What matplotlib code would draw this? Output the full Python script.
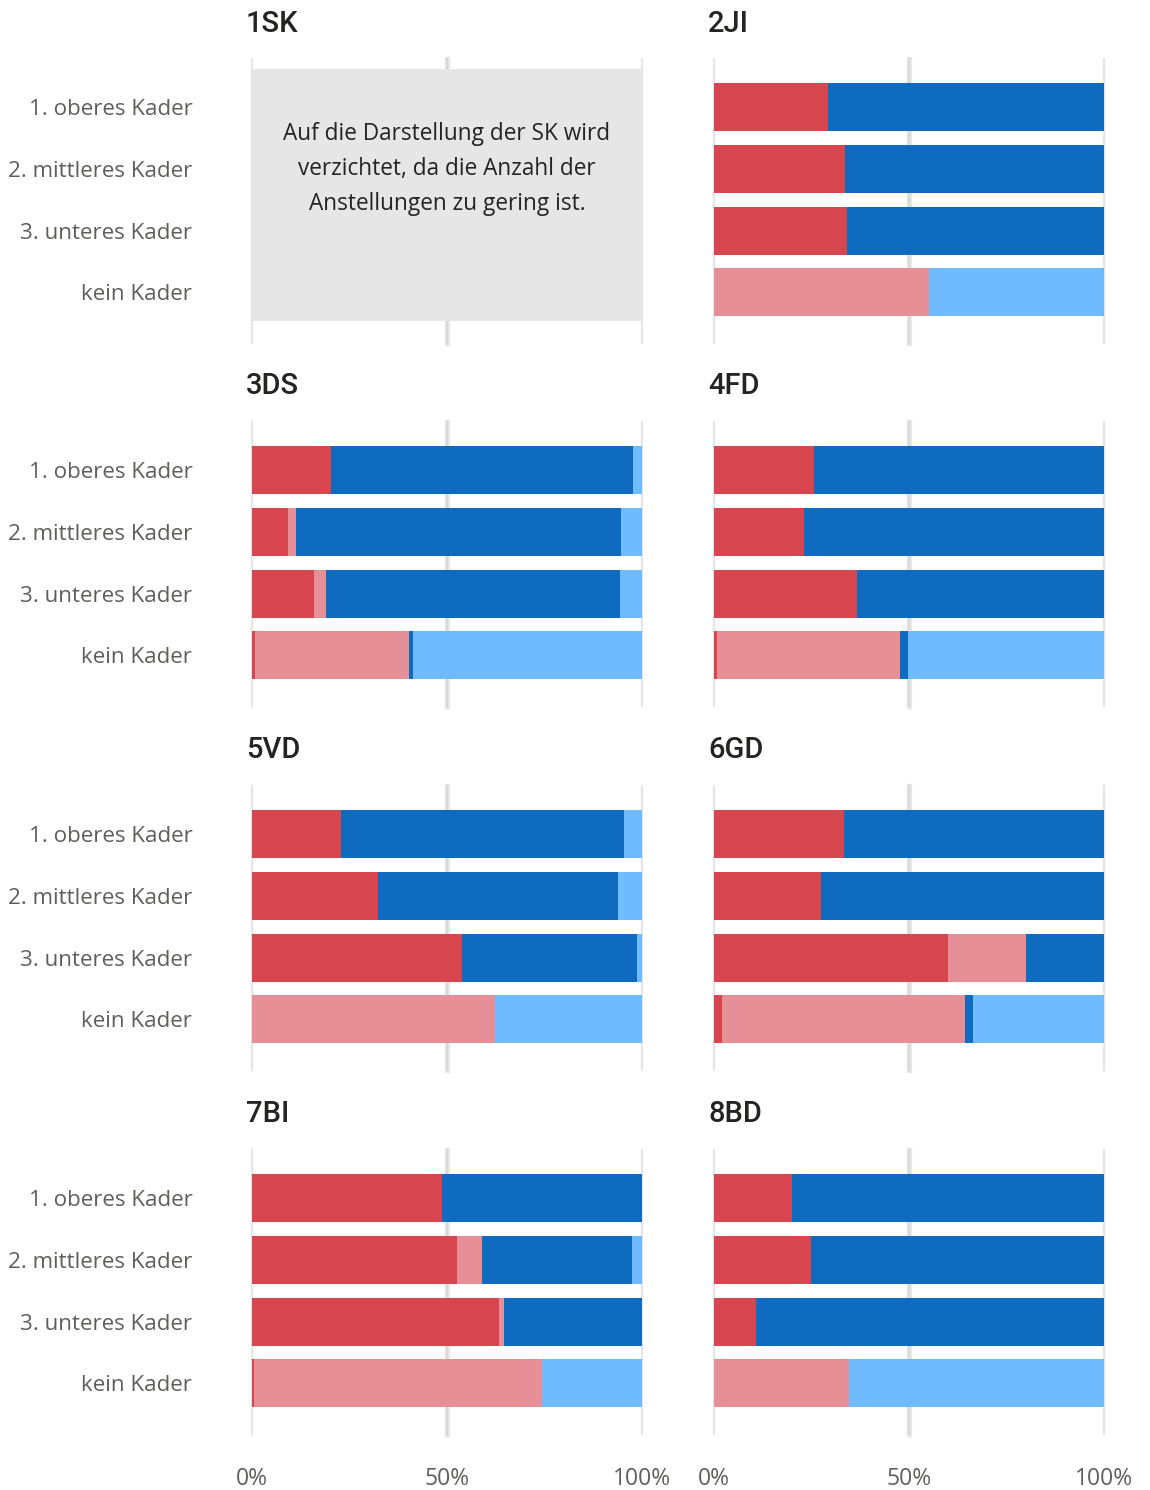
import matplotlib
matplotlib.use("Agg")
import matplotlib.pyplot as plt
from matplotlib.patches import Rectangle

# Kaderstufen (y-Achse) und Direktionen (Panels)
kategorien = ["1. oberes Kader", "2. mittleres Kader", "3. unteres Kader", "kein Kader"]
panels = ["1SK", "2JI", "3DS", "4FD", "5VD", "6GD", "7BI", "8BD"]
x_ticks = [0, 50, 100]
x_tick_labels = ["0%", "50%", "100%"]

hinweis_1sk = ("Auf die Darstellung der SK wird\n"
               "verzichtet, da die Anzahl der\n"
               "Anstellungen zu gering ist.")

# Anteile in Prozent je Panel (ohne 1SK), Reihenfolge wie kategorien
rot_dunkel = {
    "2JI": [29.2, 33.6, 34.1, 0.0],
    "3DS": [20.3, 9.2, 15.9, 0.8],
    "4FD": [25.6, 23.1, 36.7, 0.8],
    "5VD": [22.8, 32.3, 53.8, 0.0],
    "6GD": [33.3, 27.4, 60.0, 2.1],
    "7BI": [48.7, 52.6, 63.3, 0.5],
    "8BD": [20.0, 24.9, 10.8, 0.0],
}
rot_hell = {
    "2JI": [0.0, 0.0, 0.0, 55.1],
    "3DS": [0.0, 2.1, 3.1, 39.5],
    "4FD": [0.0, 0.0, 0.0, 46.9],
    "5VD": [0.0, 0.0, 0.0, 62.4],
    "6GD": [0.0, 0.0, 20.0, 62.3],
    "7BI": [0.0, 6.4, 1.3, 73.8],
    "8BD": [0.0, 0.0, 0.0, 34.6],
}
blau_dunkel = {
    "2JI": [70.8, 66.4, 65.9, 0.0],
    "3DS": [77.4, 83.3, 75.4, 1.0],
    "4FD": [74.4, 76.9, 63.3, 2.0],
    "5VD": [72.6, 61.5, 44.9, 0.0],
    "6GD": [66.7, 72.6, 20.0, 2.0],
    "7BI": [51.3, 38.4, 35.4, 0.0],
    "8BD": [80.0, 75.1, 89.2, 0.0],
}
blau_hell = {
    "2JI": [0.0, 0.0, 0.0, 44.9],
    "3DS": [2.3, 5.4, 5.6, 58.7],
    "4FD": [0.0, 0.0, 0.0, 50.3],
    "5VD": [4.6, 6.2, 1.3, 37.6],
    "6GD": [0.0, 0.0, 0.0, 33.6],
    "7BI": [0.0, 2.6, 0.0, 25.7],
    "8BD": [0.0, 0.0, 0.0, 65.4],
}

serien = [rot_dunkel, rot_hell, blau_dunkel, blau_hell]
farben = ["#D7464F", "#E68F96", "#0F6BBF", "#70BBFF"]

TEXT_DARK = "#252423"
TEXT_GRAY = "#605E5C"
LABEL_FONT = ["Open Sans", "DejaVu Sans"]
TITLE_FONT = ["Roboto", "DejaVu Sans"]

W, H = 1150, 1490
fig = plt.figure(figsize=(W / 100, H / 100), dpi=100)
fig.patch.set_facecolor("white")

col_left = [252, 714]
ax_w = 390
row_top = [59, 422, 786, 1150]
ax_h = 284

for i, name in enumerate(panels):
    r, c = divmod(i, 2)
    left = col_left[c] / W
    bottom = 1 - (row_top[r] + ax_h) / H
    ax = fig.add_axes([left, bottom, ax_w / W, ax_h / H])
    ax.set_xlim(0, 100)
    ax.set_ylim(3.82, -0.78)
    for s in ax.spines.values():
        s.set_visible(False)

    # Gitterlinien
    ax.axvline(0, color="#E6E6E6", lw=1.6, zorder=0, clip_on=False)
    ax.axvline(100, color="#E6E6E6", lw=1.6, zorder=0, clip_on=False)
    ax.axvline(50, color="#E6E6E6", lw=3.8, zorder=0, clip_on=False)
    ax.axvline(50, color="#D8D8D8", lw=1.3, zorder=0, clip_on=False)

    ypos = list(range(len(kategorien)))
    if name in rot_dunkel:
        links = [0.0] * len(kategorien)
        for serie, farbe in zip(serien, farben):
            werte = serie[name]
            ax.barh(ypos, werte, left=links, height=0.78, color=farbe,
                    linewidth=0, zorder=2)
            links = [a + b for a, b in zip(links, werte)]
    else:
        ax.add_patch(Rectangle((0, 0.078), 1.0, 0.887, transform=ax.transAxes,
                               facecolor="#E6E6E6", edgecolor="none", zorder=1))
        ax.text(0.5, 0.612, hinweis_1sk, transform=ax.transAxes, ha="center",
                va="center", fontsize=16.3, color=TEXT_DARK, family=LABEL_FONT,
                linespacing=1.6, zorder=3)

    ax.set_yticks(ypos)
    if c == 0:
        ax.set_yticklabels(kategorien, fontsize=16.1, color=TEXT_GRAY,
                           family=LABEL_FONT)
    else:
        ax.set_yticklabels([])
    ax.tick_params(axis="y", length=0, pad=43)

    ax.set_xticks(x_ticks)
    if r == 3:
        ax.set_xticklabels(x_tick_labels, fontsize=16.5, color=TEXT_GRAY,
                           family=LABEL_FONT)
    else:
        ax.set_xticklabels([])
    ax.tick_params(axis="x", length=0, pad=24)

    # Panel-Titel
    fig.text((col_left[c] - 6) / W, 1 - (row_top[r] - 27.5) / H, name,
             ha="left", va="baseline", fontsize=21, color=TEXT_DARK,
             family=TITLE_FONT, fontweight="medium")

fig.savefig("out.png", dpi=100, facecolor="white")
